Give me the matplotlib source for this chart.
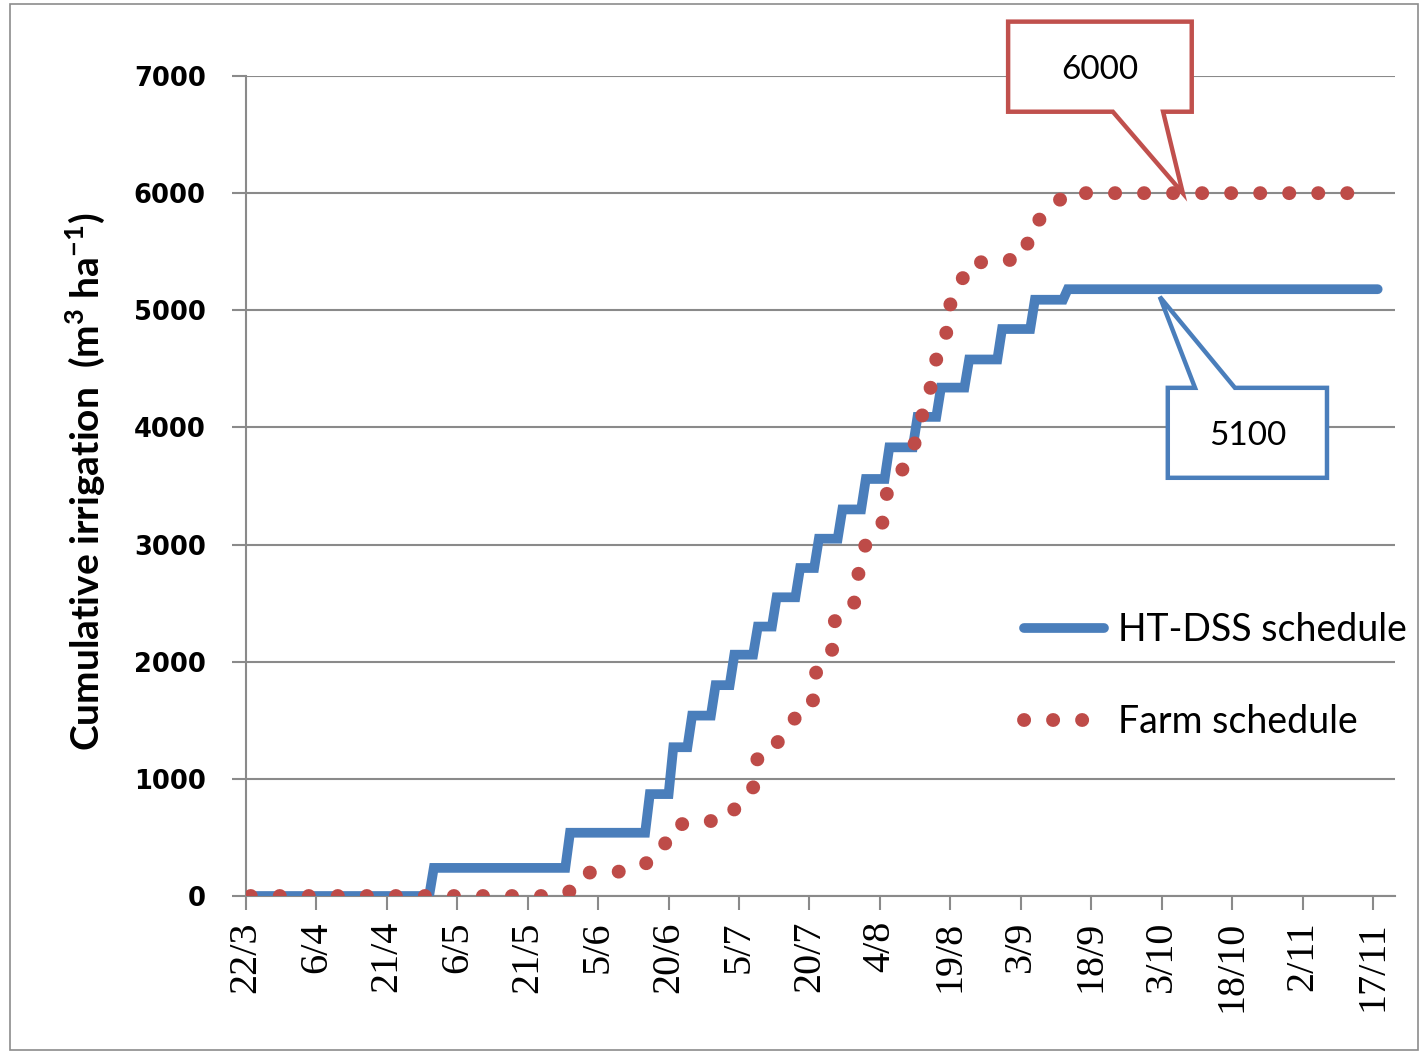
#!/usr/bin/env python3
"""Cumulative irrigation: HT-DSS schedule vs farm schedule (PNG)."""

import matplotlib

matplotlib.use("Agg")
import matplotlib.pyplot as plt
from matplotlib.lines import Line2D
from matplotlib.patches import Polygon, Rectangle

# ---- data (days since 22/3, cumulative m3/ha) ----
TICK_DAYS = [0, 15, 30, 45, 60, 75, 90, 105, 120, 135, 150, 165, 180, 195, 210, 225, 240]
TICK_LABELS = ["22/3", "6/4", "21/4", "6/5", "21/5", "5/6", "20/6", "5/7", "20/7",
               "4/8", "19/8", "3/9", "18/9", "3/10", "18/10", "2/11", "17/11"]

DSS_DAYS = [39, 68, 85, 90, 94, 99, 103, 108, 112, 117, 121, 126, 131, 136, 142,
            147, 153, 160, 167, 174]
DSS_VALUES = [240, 540, 870, 1270, 1540, 1800, 2060, 2300, 2550, 2800, 3050, 3300,
              3560, 3830, 4090, 4340, 4580, 4840, 5090, 5180]
DSS_END = 241

FARM_DAYS = [1, 66, 69, 72.5, 78.5, 84, 88.5, 90.5, 95.5, 102, 105, 108.5, 109,
             113.5, 116.5, 119, 121, 121.5, 125, 125.5, 129.5, 130.5, 132, 135.5,
             136.5, 139.5, 142, 143.5, 145.5, 146.5, 149, 149.5, 152, 154, 160.5,
             166, 167, 171, 174.5, 237]
FARM_VALUES = [0, 0, 40, 200, 200, 250, 360, 590, 640, 640, 790, 950, 1220, 1320,
               1490, 1670, 1670, 1960, 2110, 2400, 2500, 2770, 3010, 3180, 3440,
               3620, 3800, 4050, 4260, 4540, 4740, 5010, 5210, 5410, 5410, 5460,
               5720, 5830, 6000, 6000]

CALLOUT_FARM = 6000
CALLOUT_DSS = 5100

BLUE = "#4a7ebb"
RED = "#be4b48"
GRID = "#8a8a8a"
SANS = ["Lato", "DejaVu Sans"]

BLUE_LW = 7
RED_LW = 10
RED_DOTS = (0, (0.01, 2.08))

plt.rcParams.update({
    "mathtext.fontset": "custom",
    "mathtext.rm": "Lato",
    "mathtext.bf": "Lato:bold",
})


def step_path(days, values, end):
    """Cumulative steps, each jump ramped over one day (as in daily data)."""
    xs, ys = [0], [0]
    prev = 0
    for d, v in zip(days, values):
        xs += [d, d + 1]
        ys += [prev, v]
        prev = v
    xs.append(end)
    ys.append(prev)
    return xs, ys


fig = plt.figure(figsize=(14.25, 10.54), dpi=100, facecolor="white")
ax = fig.add_axes([0.1726, 0.1499, 0.8064, 0.778])

xs, ys = step_path(DSS_DAYS, DSS_VALUES, DSS_END)
ax.plot(xs, ys, color=BLUE, lw=BLUE_LW, solid_capstyle="round", solid_joinstyle="miter",
        zorder=3)
ax.plot(FARM_DAYS, FARM_VALUES, color=RED, lw=RED_LW, ls=RED_DOTS,
        dash_capstyle="round", zorder=4)

ax.set_xlim(0, 244.7)
ax.set_ylim(0, 7000)
ax.set_yticks(range(0, 7001, 1000))
ax.set_xticks(TICK_DAYS)
ax.set_xticklabels(TICK_LABELS, rotation=90, family="Liberation Serif", fontsize=29)
for lab in ax.get_yticklabels():
    lab.set_fontweight("bold")
    lab.set_fontsize(18.5)
ax.tick_params(axis="y", length=10, width=1.5, color=GRID, pad=19)
ax.tick_params(axis="x", length=10, width=1.5, color=GRID, pad=8)
ax.grid(axis="y", color=GRID, lw=1.5)
ax.set_axisbelow(True)
for s in ("top", "right"):
    ax.spines[s].set_visible(False)
for s in ("left", "bottom"):
    ax.spines[s].set_color(GRID)
    ax.spines[s].set_linewidth(1.5)

fig.text(85 / 1425, 1 - 482 / 1054,
         r"Cumulative irrigation  (m$^\mathbf{3}$ ha$^\mathbf{-1}$)",
         rotation=90, ha="center", va="center", fontsize=28, fontweight="bold",
         family=SANS)

handles = [
    Line2D([], [], color=BLUE, lw=BLUE_LW, solid_capstyle="round"),
    Line2D([], [], color=RED, lw=RED_LW, ls=RED_DOTS, dash_capstyle="round"),
]
ax.legend(handles, ["HT-DSS schedule", "Farm schedule"], loc="center left",
          bbox_to_anchor=(0.677, 0.268), frameon=False, borderpad=0, borderaxespad=0,
          handlelength=2.13, handletextpad=0.37, labelspacing=1.5,
          prop={"family": SANS, "size": 27})


# callout boxes: (box left, box right) in days, (box bottom, box top) in values
def callout(tip_x, tip_y, box_x, box_y, base_x, pointer_down, color, text):
    x0, x1 = box_x
    y0, y1 = box_y
    b0, b1 = base_x
    if pointer_down:
        verts = [(x0, y1), (x1, y1), (x1, y0), (b1, y0), (tip_x, tip_y), (b0, y0), (x0, y0)]
    else:
        verts = [(x0, y1), (b0, y1), (tip_x, tip_y), (b1, y1), (x1, y1), (x1, y0), (x0, y0)]
    ax.add_patch(Polygon(verts, closed=True, facecolor="white", edgecolor=color,
                         lw=3.2, joinstyle="miter", clip_on=False, zorder=6))
    ax.text((x0 + x1) / 2, (y0 + y1) / 2 - 30, text, ha="center", va="center",
            fontsize=24, family=SANS, zorder=7, clip_on=False)


callout(199.5, CALLOUT_FARM, (162.3, 201.4), (6695, 7464), (184.6, 195.3), True,
        "#c0504d", f"{CALLOUT_FARM}")
callout(194.6, 5115, (196.3, 230.2), (3570, 4338), (202.1, 210.6), False,
        BLUE, f"{CALLOUT_DSS}")

fig.patches.append(Rectangle((0.007, 0.004), 0.988, 0.992, transform=fig.transFigure,
                             fill=False, edgecolor="#8c8c8c", lw=1.2))

fig.savefig("out.png", dpi=100, facecolor="white")
